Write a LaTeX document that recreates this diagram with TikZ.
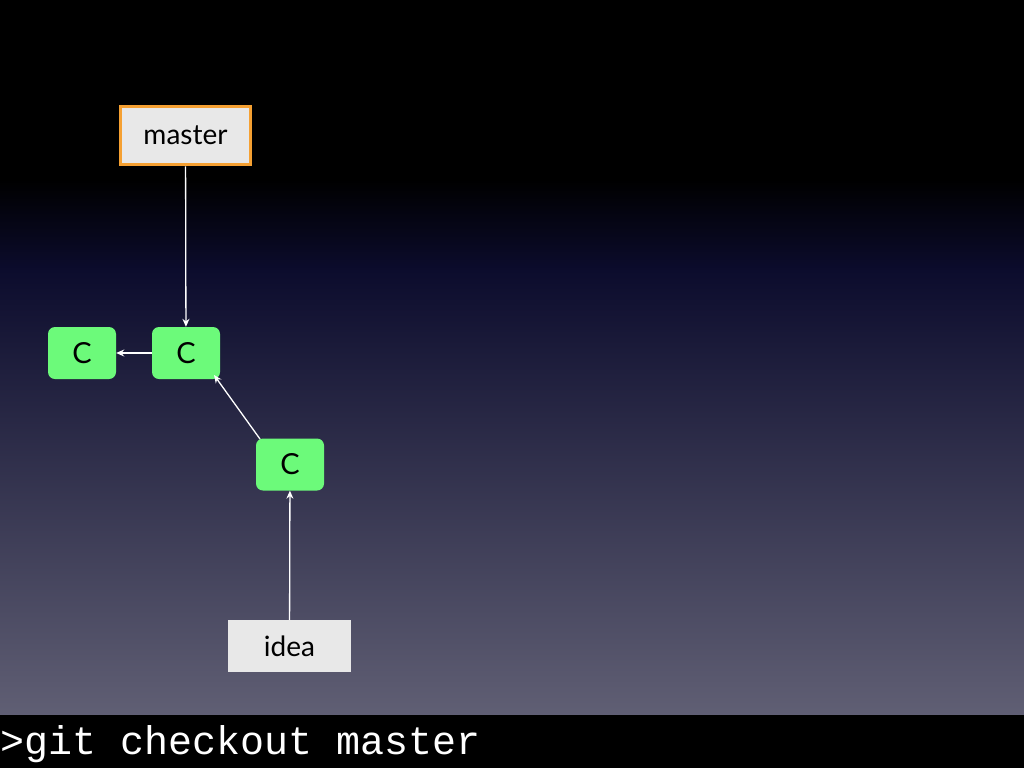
\documentclass[tikz,border=0pt]{standalone}
\usepackage{fontspec}
\setmainfont{Lato}
\setmonofont{Liberation Mono}
\usetikzlibrary{arrows.meta}
\begin{document}
\begin{tikzpicture}[x=1pt,y=-1pt,
  commit/.style={fill={rgb,255:red,108;green,250;blue,122}, rounded corners=7pt, minimum width=68pt, minimum height=52pt, inner sep=0pt, font=\fontsize{29}{30}\selectfont},
  branch/.style={fill={rgb,255:red,232;green,232;blue,232}, minimum height=52pt, inner sep=0pt, font=\fontsize{28}{30}\selectfont},
  arr/.style={draw=white, line width=1.3pt, -{Stealth[length=8pt,width=7pt]}}]
\useasboundingbox (0,0) rectangle (1024,768);
\fill[black] (0,0) rectangle (1024,180);
\shade[top color=black, bottom color={rgb,255:red,12;green,12;blue,45}] (0,179) rectangle (1024,271);
\shade[top color={rgb,255:red,12;green,12;blue,45}, bottom color={rgb,255:red,96;green,95;blue,116}] (0,270) rectangle (1024,716);
\fill[black] (0,715) rectangle (1024,768);
\node[anchor=west, inner sep=0pt, text=white, font=\ttfamily\fontsize{40}{40}\selectfont] (cmd) at (0,744) {>git checkout master};
\node[branch, minimum width=130pt, minimum height=58pt, draw={rgb,255:red,245;green,160;blue,50}, line width=3.5pt] (master) at (185.5,135.5) {master};
\node[branch, minimum width=123pt] (idea) at (289.5,646) {idea};
\node[commit] (c1) at (82,353) {C};
\node[commit] (c2) at (186,353) {C};
\node[commit] (c3) at (290,464.5) {C};
\draw[arr] (master) -- (c2);
\draw[arr] (c2) -- (c1);
\coordinate (s) at (260,439);
\coordinate (t) at (214,375);
\draw[arr] (s) -- (t);
\draw[arr] (idea) -- (c3);
\end{tikzpicture}
\end{document}
